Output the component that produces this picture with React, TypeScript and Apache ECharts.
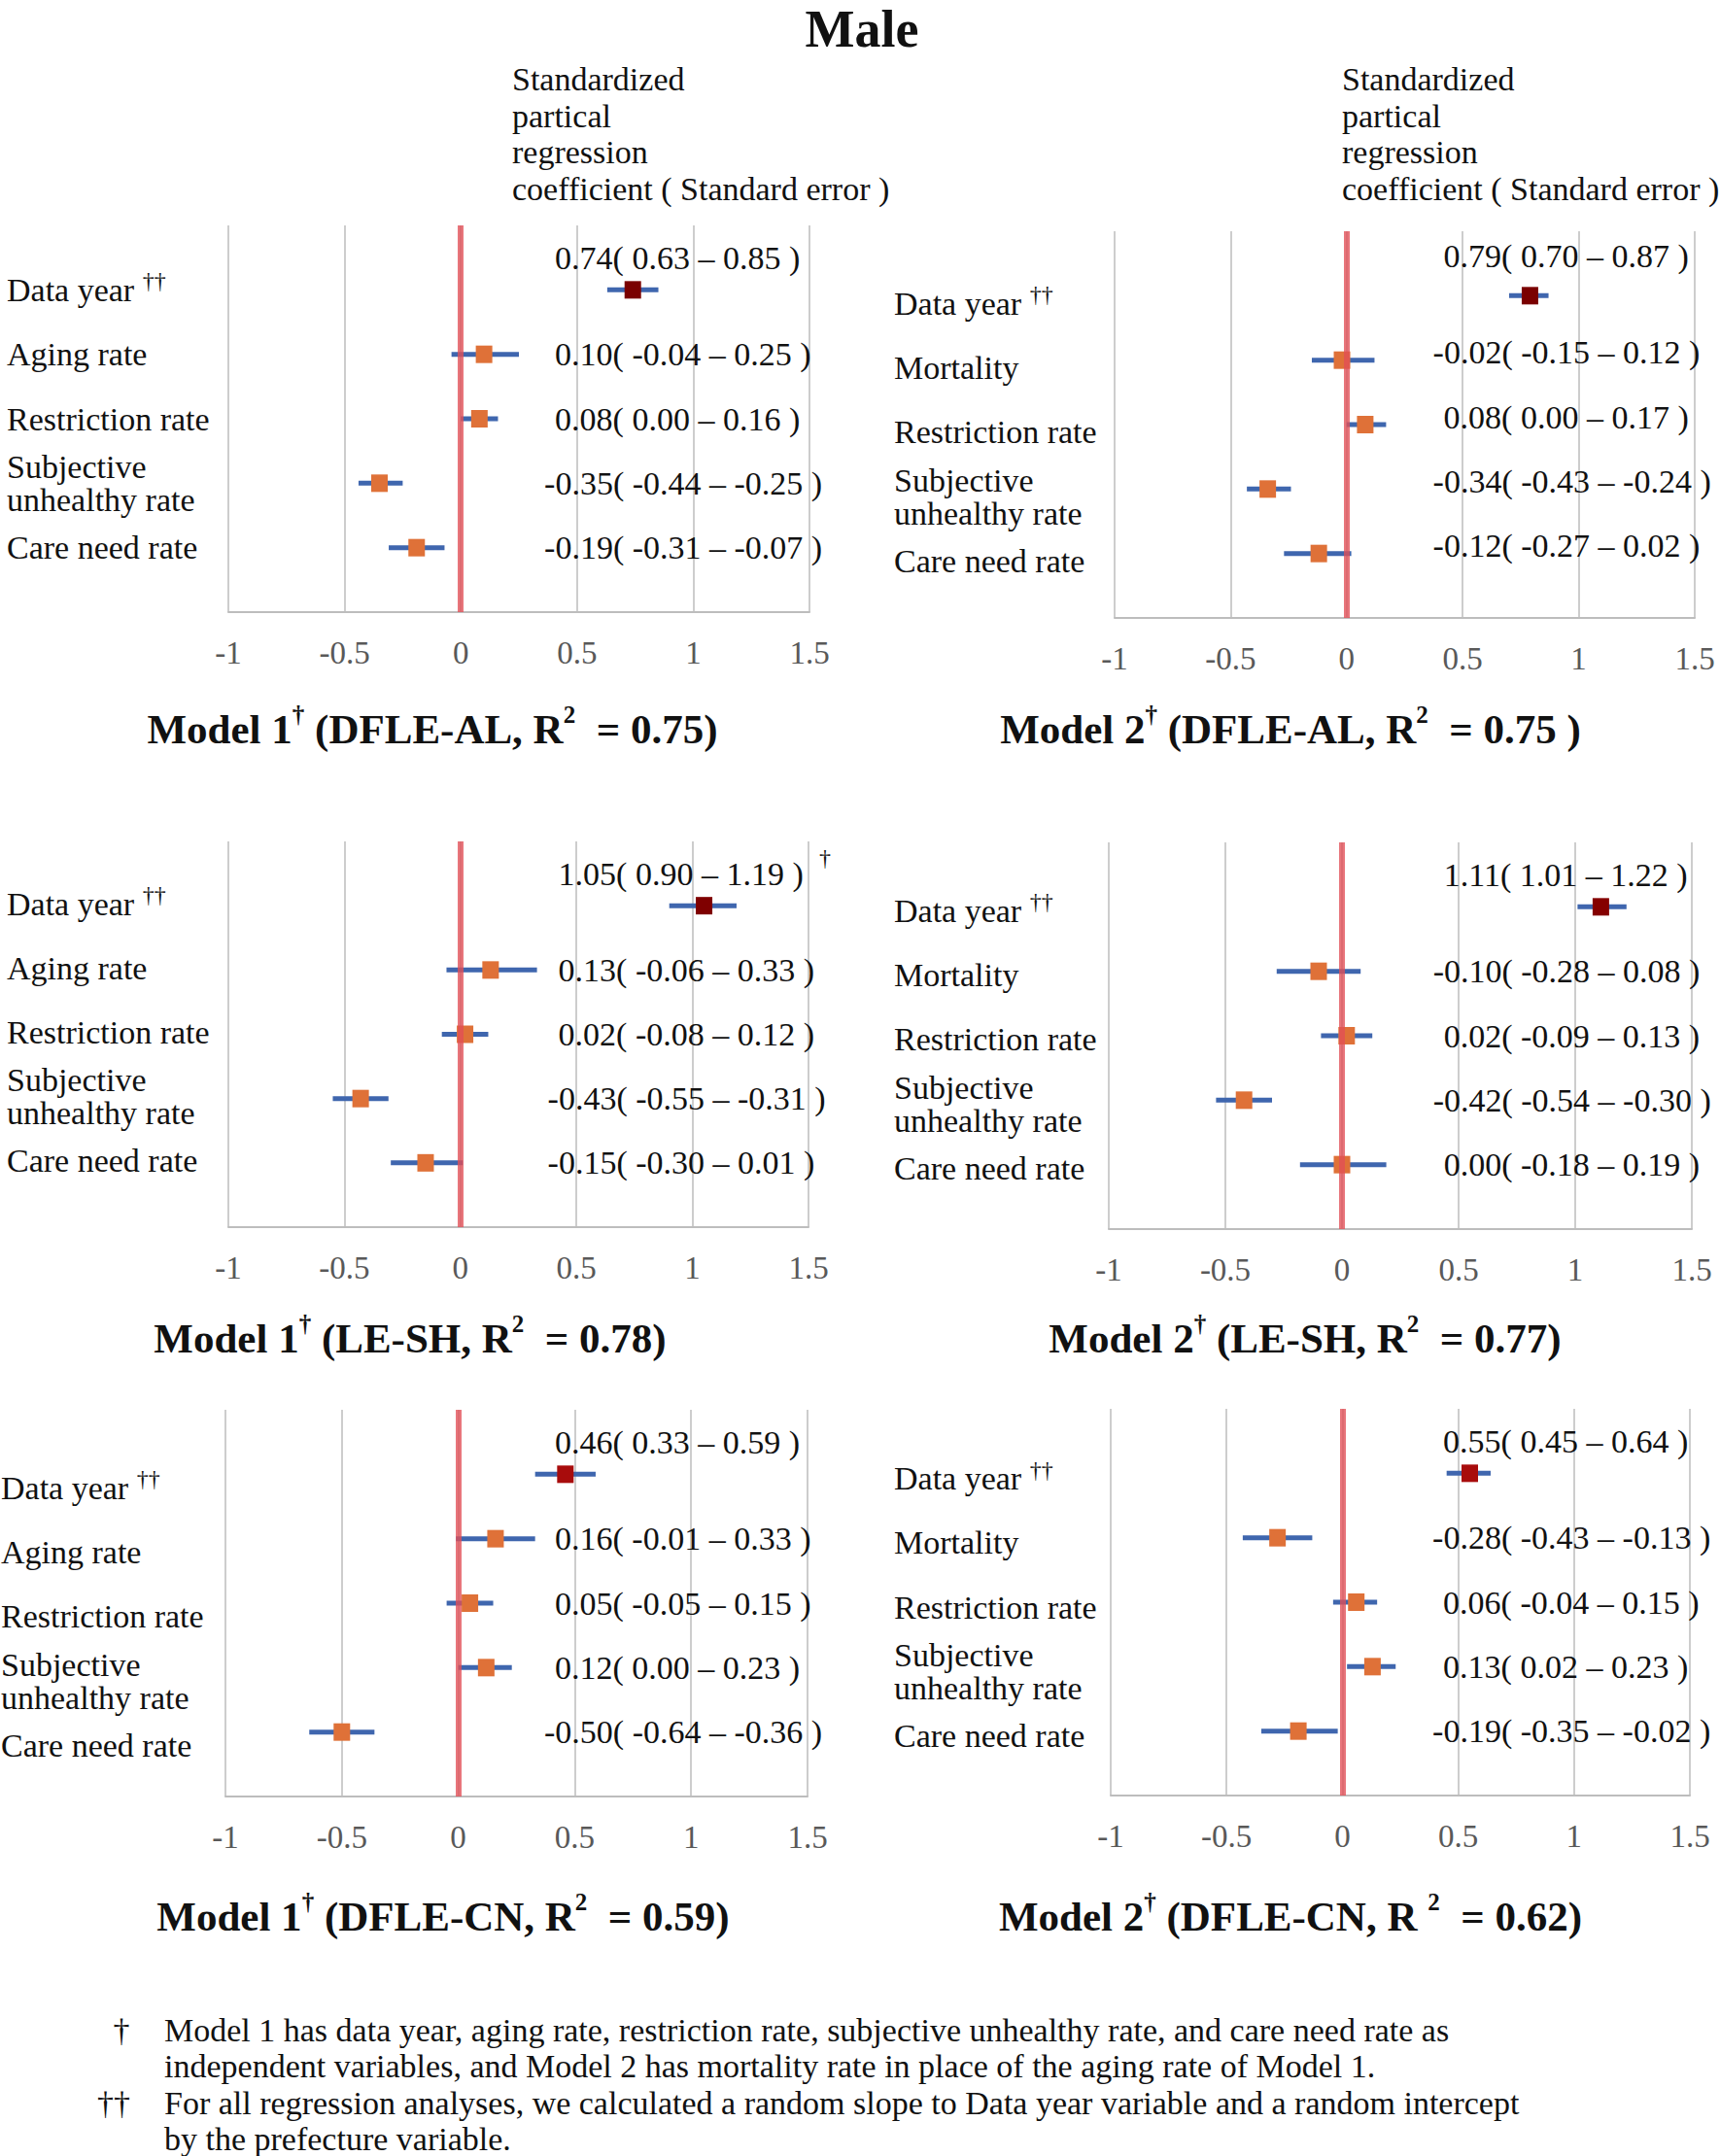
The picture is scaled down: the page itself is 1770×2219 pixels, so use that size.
import React, { useEffect, useRef } from "react";
import * as echarts from "echarts";

const FONT = "'Liberation Serif', 'Times New Roman', serif";

// ---------- data ----------
const xTicks = [-1, -0.5, 0, 0.5, 1, 1.5];

const model1Vars = ["Data year", "Aging rate", "Restriction rate", "Subjective\nunhealthy rate", "Care need rate"];
const model2Vars = ["Data year", "Mortality", "Restriction rate", "Subjective\nunhealthy rate", "Care need rate"];

// Model 1, DFLE-AL
const m1AlCoef = [0.74, 0.1, 0.08, -0.35, -0.19];
const m1AlLow = [0.63, -0.04, 0.0, -0.44, -0.31];
const m1AlHigh = [0.85, 0.25, 0.16, -0.25, -0.07];
// Model 2, DFLE-AL
const m2AlCoef = [0.79, -0.02, 0.08, -0.34, -0.12];
const m2AlLow = [0.7, -0.15, 0.0, -0.43, -0.27];
const m2AlHigh = [0.87, 0.12, 0.17, -0.24, 0.02];
// Model 1, LE-SH
const m1ShCoef = [1.05, 0.13, 0.02, -0.43, -0.15];
const m1ShLow = [0.9, -0.06, -0.08, -0.55, -0.3];
const m1ShHigh = [1.19, 0.33, 0.12, -0.31, 0.01];
// Model 2, LE-SH
const m2ShCoef = [1.11, -0.1, 0.02, -0.42, 0.0];
const m2ShLow = [1.01, -0.28, -0.09, -0.54, -0.18];
const m2ShHigh = [1.22, 0.08, 0.13, -0.3, 0.19];
// Model 1, DFLE-CN
const m1CnCoef = [0.46, 0.16, 0.05, 0.12, -0.5];
const m1CnLow = [0.33, -0.01, -0.05, 0.0, -0.64];
const m1CnHigh = [0.59, 0.33, 0.15, 0.23, -0.36];
// Model 2, DFLE-CN
const m2CnCoef = [0.55, -0.28, 0.06, 0.13, -0.19];
const m2CnLow = [0.45, -0.43, -0.04, 0.02, -0.35];
const m2CnHigh = [0.64, -0.13, 0.15, 0.23, -0.02];

const panelTitles = [
  "{b|Model 1}{s|†}{b| (DFLE-AL, R}{s|2}{b|  = 0.75)}",
  "{b|Model 2}{s|†}{b| (DFLE-AL, R}{s|2}{b|  = 0.75 )}",
  "{b|Model 1}{s|†}{b| (LE-SH, R}{s|2}{b|  = 0.78)}",
  "{b|Model 2}{s|†}{b| (LE-SH, R}{s|2}{b|  = 0.77)}",
  "{b|Model 1}{s|†}{b| (DFLE-CN, R}{s|2}{b|  = 0.59)}",
  "{b|Model 2}{s|†}{b| (DFLE-CN, R }{s|2}{b|  = 0.62)}",
];

const headerText = "Standardized\npartical\nregression\ncoefficient ( Standard error )";
const footnote1 = [
  "Model 1 has data year, aging rate, restriction rate, subjective unhealthy rate, and care need rate as",
  "independent variables, and Model 2 has mortality rate in place of the aging rate of Model 1.",
];
const footnote2 = [
  "For all regression analyses, we calculated a random slope to Data year variable and a random intercept",
  "by the prefecture variable.",
];

// ---------- styles / layout ----------
const BLUE = "#3F66AE";
const ORANGE = "#DF7138";
const RED_LINE = "rgba(226, 78, 86, 0.78)";
const GRID_COLOR = "#CDCDCD";
const TEXT = "#111111";
const FS = 34;

const panels = [
  { vars: model1Vars, coef: m1AlCoef, low: m1AlLow, high: m1AlHigh, left: 235, top: 232, width: 598, height: 398, labelX: 7, titleX: 445, titleY: 750, rowShift: 0.0, valShift: 0, anchor: 0.405, yearColor: "#7A0000" },
  { vars: model2Vars, coef: m2AlCoef, low: m2AlLow, high: m2AlHigh, left: 1147, top: 238, width: 597, height: 398, labelX: 920, titleX: 1328, titleY: 750, rowShift: 0.12, valShift: -0.12, anchor: 0.418, yearColor: "#7A0000" },
  { vars: model1Vars, coef: m1ShCoef, low: m1ShLow, high: m1ShHigh, left: 235, top: 866, width: 597, height: 397, labelX: 7, titleX: 422, titleY: 1377, rowShift: -0.03, valShift: 0, anchor: 0.422, yearColor: "#7F0000" },
  { vars: model2Vars, coef: m2ShCoef, low: m2ShLow, high: m2ShHigh, left: 1141, top: 867, width: 600, height: 398, labelX: 920, titleX: 1343, titleY: 1377, rowShift: 0.06, valShift: 0, anchor: 0.436, yearColor: "#850000" },
  { vars: model1Vars, coef: m1CnCoef, low: m1CnLow, high: m1CnHigh, left: 232, top: 1451, width: 599, height: 398, labelX: 1, titleX: 456, titleY: 1972, rowShift: 0.21, valShift: 0, anchor: 0.415, yearColor: "#A80C0C" },
  { vars: model2Vars, coef: m2CnCoef, low: m2CnLow, high: m2CnHigh, left: 1143, top: 1450, width: 596, height: 398, labelX: 920, titleX: 1328, titleY: 1972, rowShift: 0.08, valShift: 0, anchor: 0.435, yearColor: "#A80C0C" },
];

const fmt = (v: number) => v.toFixed(2);

function buildOption() {
  const grid: any[] = [];
  const xAxis: any[] = [];
  const yAxis: any[] = [];
  const series: any[] = [];
  const graphic: any[] = [];

  panels.forEach((p, i) => {
    grid.push({ left: p.left, top: p.top, width: p.width, height: p.height, containLabel: false });
    xAxis.push({
      gridIndex: i,
      type: "value",
      min: xTicks[0],
      max: xTicks[xTicks.length - 1],
      interval: 0.5,
      axisLine: { show: true, onZero: false, lineStyle: { color: "#BDBDBD", width: 2 } },
      axisTick: { show: false },
      splitLine: { show: true, lineStyle: { color: GRID_COLOR, width: 2 } },
      axisLabel: {
        color: "#595959",
        fontSize: 33,
        fontFamily: FONT,
        margin: 25,
        formatter: (v: number) => String(v),
      },
    });
    yAxis.push({ gridIndex: i, type: "value", min: 0, max: 6, inverse: true, show: false });

    // error bars
    series.push({
      type: "custom",
      xAxisIndex: i,
      yAxisIndex: i,
      z: 2,
      data: p.coef.map((c, k) => [k + 1, p.low[k], p.high[k]]),
      renderItem: (params: any, api: any) => {
        const y = api.value(0);
        const a = api.coord([api.value(1), y]);
        const b = api.coord([api.value(2), y]);
        return {
          type: "line",
          shape: { x1: a[0], y1: a[1], x2: b[0], y2: b[1] },
          style: { stroke: BLUE, lineWidth: 5 },
        };
      },
    });

    // point estimates
    series.push({
      type: "scatter",
      xAxisIndex: i,
      yAxisIndex: i,
      z: 3,
      symbol: "rect",
      symbolSize: [17, 18],
      itemStyle: { opacity: 1 },
      data: p.coef.map((c, k) => ({
        value: [c, k + 1],
        itemStyle: { color: k === 0 ? p.yearColor : ORANGE },
      })),
    });

    // value labels
    series.push({
      type: "custom",
      xAxisIndex: i,
      yAxisIndex: i,
      z: 4,
      clip: false,
      data: p.coef.map((c, k) => [k + 1]),
      renderItem: (params: any, api: any) => {
        const k = params.dataIndex;
        const idx = api.value(0);
        const yv = (k === 0 ? 0.5 : idx) + p.valShift;
        const pt = api.coord([p.anchor, yv]);
        const c = p.coef[k];
        const txt = `${fmt(c)}( ${fmt(p.low[k])} – ${fmt(p.high[k])} )`;
        const off = c < 0 ? 11 : 0;
        return {
          type: "text",
          x: pt[0] - off,
          y: pt[1],
          style: {
            text: txt,
            fill: TEXT,
            fontSize: FS,
            fontFamily: FONT,
            align: "left",
            verticalAlign: "middle",
          },
        };
      },
    });

    // row labels
    series.push({
      type: "custom",
      xAxisIndex: i,
      yAxisIndex: i,
      z: 4,
      clip: false,
      data: p.vars.map((v, k) => [k + 1]),
      renderItem: (params: any, api: any) => {
        const k = params.dataIndex;
        const idx = api.value(0);
        const pt = api.coord([xTicks[0], idx + p.rowShift]);
        const name = p.vars[k];
        let text: string;
        if (k === 0) text = `{y|${name} }{s|††}`;
        else text = name.split("\n").map((l) => `{a|${l}}`).join("\n");
        return {
          type: "text",
          x: pt[0] - (p.left - p.labelX),
          y: pt[1],
          style: {
            text,
            fill: TEXT,
            fontSize: FS,
            fontFamily: FONT,
            align: "left",
            verticalAlign: "middle",
            rich: {
              a: { fontSize: FS, fontFamily: FONT, fill: TEXT, lineHeight: 34 },
              y: { fontSize: FS, fontFamily: FONT, fill: TEXT, lineHeight: 42 },
              s: { fontSize: 24, fontFamily: FONT, fill: TEXT, lineHeight: 24, verticalAlign: "top" },
            },
          },
        };
      },
    });

    // zero reference line
    series.push({
      type: "scatter",
      xAxisIndex: i,
      yAxisIndex: i,
      z: 5,
      symbolSize: 0,
      silent: true,
      data: [[0, 3]],
      markLine: {
        silent: true,
        symbol: "none",
        label: { show: false },
        lineStyle: { color: RED_LINE, width: 6, type: "solid" },
        data: [{ xAxis: 0 }],
      },
    });

    graphic.push({
      type: "text",
      x: p.titleX,
      y: p.titleY,
      style: {
        text: panelTitles[i],
        align: "center",
        verticalAlign: "middle",
        fill: TEXT,
        rich: {
          b: { fontSize: 43, fontWeight: "bold", fontFamily: FONT, fill: TEXT, lineHeight: 54 },
          s: { fontSize: 25, fontWeight: "bold", fontFamily: FONT, fill: TEXT, lineHeight: 25, verticalAlign: "top" },
        },
      },
    });
  });

  // main title
  graphic.push({
    type: "text",
    x: 887,
    y: 30,
    style: { text: "Male", align: "center", verticalAlign: "middle", fontSize: 54, fontWeight: "bold", fontFamily: FONT, fill: TEXT },
  });
  // column headers
  [527, 1381].forEach((x) => {
    graphic.push({
      type: "text",
      x,
      y: 63,
      style: { text: headerText, align: "left", verticalAlign: "top", fontSize: FS, lineHeight: 37.5, fontFamily: FONT, fill: TEXT },
    });
  });
  // stray dagger in LE-SH Model 1 panel
  graphic.push({
    type: "text",
    x: 849,
    y: 883,
    style: { text: "†", align: "center", verticalAlign: "middle", fontSize: 24, fontFamily: FONT, fill: TEXT },
  });
  // footnotes
  const fnY = [2089, 2126, 2164, 2201];
  graphic.push({ type: "text", x: 125, y: fnY[0], style: { text: "†", align: "center", verticalAlign: "middle", fontSize: FS, fontFamily: FONT, fill: TEXT } });
  graphic.push({ type: "text", x: 117, y: fnY[2], style: { text: "††", align: "center", verticalAlign: "middle", fontSize: FS, fontFamily: FONT, fill: TEXT } });
  [...footnote1, ...footnote2].forEach((line, k) => {
    graphic.push({
      type: "text",
      x: 169,
      y: fnY[k],
      style: { text: line, align: "left", verticalAlign: "middle", fontSize: FS, fontFamily: FONT, fill: TEXT },
    });
  });

  return {
    animation: false,
    backgroundColor: "#ffffff",
    textStyle: { fontFamily: FONT },
    grid,
    xAxis,
    yAxis,
    series,
    graphic,
  };
}

export default function App() {
  const ref = useRef<HTMLDivElement>(null);
  useEffect(() => {
    if (!ref.current) return;
    const chart = echarts.init(ref.current, undefined, { renderer: "svg" });
    chart.setOption(buildOption() as any);
    return () => chart.dispose();
  }, []);
  return (
    <div
      ref={ref}
      style={{ position: "absolute", left: 0, top: 0, width: 1770, height: 2219, background: "#fff" }}
    />
  );
}
